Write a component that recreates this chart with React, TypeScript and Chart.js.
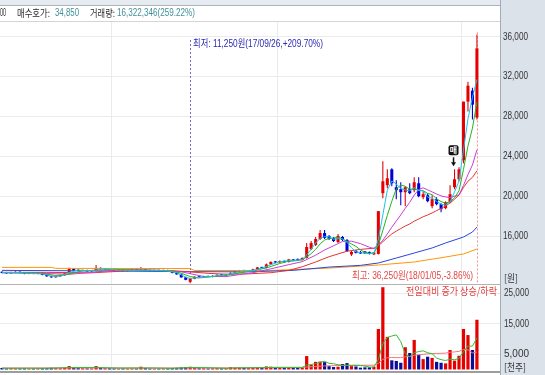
import React, { useEffect, useRef } from 'react';
import { Chart, registerables } from 'chart.js';

Chart.register(...registerables);

// ---------------- data ----------------
const opens = [
  12400, 12300, 12250, 12300, 12400, 12300, 12200, 12250, 12200, 12300,
  12100, 11950, 11850, 11950, 12050, 12250, 12700, 12550, 12500, 12550,
  12450, 12500, 12800, 12650, 12700, 12600, 12550, 12600, 12500, 12550,
  12600, 12550, 12650, 12550, 12500, 12550, 12500, 12550, 12450, 12300,
  12150, 11850, 11400, 11700, 11900, 11850, 11950, 11900, 12000, 12100,
  12050, 12150, 12300, 12400, 12550, 12450, 12500, 12650, 12850, 12800,
  13150, 13450, 13350, 13500, 13400, 13650, 13700, 13600, 13800, 14700,
  15100, 15700, 16300, 16000, 15800, 15400, 15900, 15600, 14150, 14500,
  14400, 14450, 14400, 14150, 14200, 20300, 21100, 22700, 20900, 20700,
  20400, 20700, 20600, 21300, 19900, 20100, 19000, 19700, 19200, 18800,
  19400, 20900, 21700, 23600, 29500, 30600, 27900,
];
const highs = [
  12450, 12400, 12400, 12450, 12450, 12350, 12300, 12300, 12350, 12350,
  12150, 12000, 12000, 12100, 12300, 12800, 12750, 12650, 12600, 12600,
  12550, 13100, 12850, 12750, 12750, 12650, 12650, 12650, 12600, 12650,
  12650, 12900, 12700, 12600, 12600, 12600, 12600, 12600, 12500, 12350,
  12200, 11900, 11800, 11950, 11950, 12000, 12000, 12050, 12150, 12150,
  12200, 12350, 12450, 12600, 12600, 12550, 12700, 12900, 12900, 13250,
  13450, 13500, 13550, 13550, 13700, 13700, 13750, 13850, 15300, 15500,
  15900, 16600, 16600, 16100, 15900, 16200, 16000, 15700, 14500, 14600,
  14500, 14500, 14450, 14400, 18500, 23500, 22700, 22800, 21600, 21400,
  21000, 21300, 21900, 21900, 20500, 20300, 20100, 19900, 19300, 19500,
  21100, 22700, 22900, 29500, 31500, 30900, 36250,
];
const lows = [
  12250, 12200, 12200, 12250, 12250, 12150, 12150, 12150, 12150, 12050,
  11900, 11800, 11800, 11900, 12000, 12200, 12500, 12450, 12450, 12400,
  12400, 12450, 12600, 12600, 12550, 12500, 12500, 12450, 12450, 12500,
  12500, 12500, 12500, 12450, 12450, 12450, 12450, 12400, 12250, 12100,
  11800, 11550, 11250, 11650, 11800, 11800, 11850, 11850, 11950, 12000,
  12000, 12100, 12250, 12350, 12400, 12400, 12450, 12600, 12750, 12750,
  13100, 13300, 13300, 13350, 13350, 13500, 13550, 13550, 13750, 14600,
  15000, 15600, 15700, 15600, 15400, 15300, 15500, 14400, 14000, 14250,
  14200, 14200, 14150, 14100, 14150, 19800, 20800, 21000, 19700, 19100,
  19000, 20200, 20400, 19900, 19700, 19400, 18800, 19100, 18400, 18700,
  19300, 20700, 21500, 23300, 28500, 27700, 27700,
];
const closes = [
  12300, 12250, 12350, 12400, 12300, 12200, 12250, 12200, 12300, 12100,
  11950, 11850, 11950, 12050, 12250, 12700, 12550, 12500, 12550, 12450,
  12500, 12800, 12650, 12700, 12600, 12550, 12600, 12500, 12550, 12600,
  12550, 12650, 12550, 12500, 12550, 12500, 12550, 12450, 12300, 12150,
  11850, 11600, 11750, 11900, 11850, 11950, 11900, 12000, 12100, 12050,
  12150, 12300, 12400, 12550, 12450, 12500, 12650, 12850, 12800, 13150,
  13400, 13350, 13500, 13400, 13650, 13550, 13600, 13800, 14900, 15300,
  15700, 16300, 15800, 15700, 15500, 16000, 15600, 14500, 14400, 14300,
  14250, 14250, 14200, 14350, 18500, 21500, 21800, 21300, 20600, 20400,
  20900, 20300, 21400, 20000, 20200, 19500, 19700, 19200, 18700, 19400,
  20200, 21700, 22700, 29500, 31100, 29200, 34850,
];
// volume in 천주 (thousand shares)
const volumes = [
  500, 400, 450, 400, 350, 400, 300, 350, 400, 450,
  500, 550, 450, 400, 600, 1100, 700, 450, 400, 350,
  350, 1100, 600, 400, 400, 350, 300, 350, 300, 350,
  300, 900, 450, 350, 300, 300, 350, 400, 500, 550,
  700, 800, 900, 600, 400, 400, 350, 400, 450, 400,
  450, 800, 600, 650, 500, 450, 600, 700, 550, 1000,
  900, 600, 650, 550, 800, 700, 600, 800, 4400, 1500,
  2500, 2600, 2400, 1100, 800, 900, 1800, 2100, 1100, 1000,
  600, 700, 700, 900, 13300, 27000, 10700, 3000, 2800, 2200,
  7300, 5400, 9700, 4800, 3400, 4200, 3800, 2500, 2200, 2000,
  6400, 2900, 4500, 13300, 11300, 6400, 16322,
];

// moving-average lines, read as [candle index, value]
const ma3Pts: [number, number][] = [
  [0, 12320], [3, 12330], [6, 12250], [9, 12200], [11, 11970], [13, 11950], [15, 12330], [17, 12580],
  [19, 12500], [21, 12580], [23, 12720], [26, 12580], [29, 12550], [32, 12580], [35, 12520], [37, 12500],
  [39, 12300], [40, 12100], [41, 11870], [42, 11730], [44, 11830], [47, 11950], [50, 12100], [53, 12420],
  [56, 12530], [58, 12770], [60, 13120], [62, 13420], [64, 13520], [66, 13600], [67, 13650], [68, 14100],
  [69, 14670], [70, 15300], [71, 15770], [72, 15930], [73, 15930], [74, 15670], [75, 15730], [76, 15700],
  [77, 15370], [78, 14830], [79, 14400], [80, 14320], [81, 14270], [82, 14230], [83, 14270], [84, 15680],
  [85, 18120], [86, 20600], [87, 21530], [88, 21230], [89, 20770], [90, 20630], [91, 20530], [92, 20870],
  [93, 20570], [94, 20530], [95, 19900], [96, 19800], [97, 19470], [98, 19200], [99, 19100], [100, 19430],
  [101, 20430], [102, 21530], [103, 24630], [104, 27770], [105, 29930], [106, 31720],
];
const ma5Pts: [number, number][] = [
  [0, 12330], [5, 12300], [8, 12260], [10, 12160], [12, 12030], [15, 12160], [18, 12510], [21, 12560],
  [25, 12660], [30, 12560], [35, 12550], [38, 12470], [40, 12260], [42, 11930], [44, 11790], [47, 11920],
  [50, 12040], [53, 12290], [56, 12510], [59, 12790], [62, 13240], [64, 13460], [65, 13490], [66, 13540],
  [67, 13600], [68, 13900], [69, 14230], [70, 14660], [71, 15200], [72, 15600], [73, 15760], [74, 15800],
  [75, 15860], [76, 15720], [77, 15460], [78, 15200], [79, 14960], [80, 14610], [81, 14340], [82, 14280],
  [83, 14270], [84, 15110], [85, 16560], [86, 18070], [87, 19490], [88, 20740], [89, 21120], [90, 21000],
  [91, 20700], [92, 20720], [93, 20600], [94, 20560], [95, 20280], [96, 20160], [97, 19720], [98, 19460],
  [99, 19300], [100, 19440], [101, 19840], [102, 20540], [103, 22700], [104, 25040], [105, 26840], [106, 29470],
];
const ma10Pts: [number, number][] = [
  [0, 12300], [5, 12280], [10, 12230], [15, 12160], [20, 12335], [25, 12585], [30, 12610], [35, 12555],
  [40, 12405], [42, 12220], [45, 11935], [50, 11925], [53, 12125], [56, 12315], [60, 12705], [64, 13125],
  [67, 13420], [70, 14075], [72, 14600], [74, 15015], [76, 15460], [78, 15480], [80, 15235], [82, 14870],
  [83, 14735], [84, 15035], [85, 15585], [86, 16205], [87, 16885], [88, 17505], [89, 18115], [90, 18780],
  [91, 19385], [92, 20105], [93, 20670], [94, 20840], [95, 20640], [96, 20430], [97, 20220], [98, 20030],
  [99, 19930], [100, 19860], [101, 20000], [102, 20130], [103, 21080], [104, 22170], [105, 23140], [106, 24655],
];
const ma20Pts: [number, number][] = [
  [0, 12350], [10, 12350], [20, 12300], [30, 12550], [38, 12520], [42, 12400], [46, 12250], [50, 12165],
  [55, 12200], [60, 12315], [64, 12550], [67, 12910], [70, 13390], [73, 13920], [77, 14475], [80, 14655],
  [83, 14780], [84, 15025], [85, 15423], [86, 15833], [87, 16208], [88, 16493], [89, 16748], [90, 17008],
  [91, 17208], [92, 17488], [93, 17703], [94, 17938], [95, 18113], [96, 18318], [97, 18553], [98, 18768],
  [99, 19023], [100, 19320], [101, 19693], [102, 20118], [103, 20875], [104, 21505], [105, 21890], [106, 22543],
];
const ma60Pts: [number, number][] = [
  [0, 12550], [20, 12500], [42, 12420], [55, 12400], [65, 12550], [73, 12880], [80, 13050], [84, 13290],
  [88, 13790], [92, 14290], [96, 14800], [99, 15300], [103, 15900], [105, 16400], [106, 16900],
];
const ma120Pts: [number, number][] = [
  [0, 12850], [11, 12850], [12, 12750], [42, 12730], [43, 12530], [60, 12540], [73, 12780], [84, 13090],
  [92, 13390], [99, 13890], [103, 14200], [106, 14690],
];
const volMa5Pts: [number, number][] = [
  [0, 420], [10, 400], [15, 610], [18, 650], [22, 600], [26, 450], [31, 480], [33, 500], [38, 380],
  [42, 640], [45, 620], [50, 400], [53, 540], [58, 600], [60, 700], [64, 720], [67, 700], [68, 1460],
  [69, 1600], [70, 1960], [71, 2360], [72, 2680], [73, 2020], [74, 1880], [75, 1560], [76, 1400],
  [77, 1340], [78, 1340], [79, 1380], [80, 1320], [81, 1100], [82, 820], [83, 780], [84, 3240],
  [85, 8520], [86, 10520], [87, 10980], [88, 11360], [89, 9140], [90, 5200], [91, 4140], [92, 5480],
  [93, 5880], [94, 6120], [95, 5500], [96, 5180], [97, 3740], [98, 3220], [99, 2940], [100, 3380],
  [101, 3200], [102, 3600], [103, 5820], [104, 7680], [105, 7680], [106, 10364],
];
const volMa20Pts: [number, number][] = [
  [0, 480], [20, 520], [40, 480], [50, 520], [60, 580], [67, 620], [68, 800], [72, 1172], [77, 1362],
  [80, 1375], [83, 1400], [84, 2025], [85, 3340], [86, 3845], [87, 3955], [88, 3875], [89, 3910],
  [90, 4150], [91, 4290], [92, 4655], [93, 4840], [94, 4970], [95, 5135], [96, 5235], [97, 5255],
  [98, 5310], [99, 5360], [100, 5650], [101, 5760], [102, 5950], [103, 6570], [104, 6470], [105, 5440],
  [106, 5720],
];

const priceTicks = [16000, 20000, 24000, 28000, 32000, 36000];
const volumeTicks = [5000, 15000, 25000];
const monthBreaks = [24.4, 61.4, 102.5];

const headerLabels = ['00', '매수호가:', '34,850', '거래량:', '16,322,346(259.22%)'];
const lowLabel = '최저: 11,250원(17/09/26,+209.70%)';
const highLabel = '최고: 36,250원(18/01/05,-3.86%)';
const legendLabel = '전일대비 증가 상승/하락';
const signalLabel = '매';
const priceUnit = '[원]';
const volumeUnit = '[천주]';
const LOW_INDEX = 42;
const HIGH_INDEX = 106;
const SIGNAL_INDEX = 101;

// ---------------- layout / style ----------------
const W = 545;
const X_MIN = -0.45;
const X_MAX = 111.15;
const PRICE_MIN = 11180;
const PRICE_MAX = 37500;
const PRICE_UNIT_AT = 11750;
const VOL_MIN = -500;
const VOL_MAX = 27400;
const VOL_UNIT_AT = 700;

const RED = '#e60000';
const BLUE = '#0000d8';
const VOL_BLUE = '#0c0c98';
const PANEL = '#dbe2ea';
const GRID = '#ebebeb';
const LFONT = '"Liberation Sans", "Noto Sans CJK KR", sans-serif';
const KFONT = '"Noto Sans CJK KR", "Liberation Sans", sans-serif';

const toXY = (pts: [number, number][]) => pts.map(([x, y]) => ({ x, y }));

function txt(ctx: any, s: string, x: number, y: number, color: string, font: string, align: any, maxW?: number) {
  ctx.font = font;
  ctx.fillStyle = color;
  ctx.textAlign = align;
  ctx.textBaseline = 'middle';
  if (maxW !== undefined) ctx.fillText(s, x, y, maxW);
  else ctx.fillText(s, x, y);
}

function vline(ctx: any, x: number, y1: number, y2: number, color: string, dash: number[] = []) {
  ctx.save();
  ctx.strokeStyle = color;
  ctx.lineWidth = 1;
  ctx.setLineDash(dash);
  ctx.beginPath();
  ctx.moveTo(x, y1);
  ctx.lineTo(x, y2);
  ctx.stroke();
  ctx.restore();
}

function drawPanelAndMonths(chart: any) {
  const { ctx, chartArea: a, height } = chart;
  ctx.save();
  ctx.fillStyle = PANEL;
  ctx.fillRect(a.right, 0, W - a.right, height);
  ctx.fillStyle = '#a3acb8';
  ctx.fillRect(a.right, 0, 1, height);
  const xs = chart.scales.x;
  monthBreaks.forEach((m) => {
    const x = Math.round(xs.getPixelForValue(m)) + 0.5;
    vline(ctx, x, a.top, a.bottom, GRID);
  });
  ctx.restore();
}

function lineDs(label: string, pts: [number, number][], color: string, yAxisID: string) {
  return {
    type: 'line',
    label,
    data: toXY(pts),
    borderColor: color,
    borderWidth: 1,
    pointRadius: 0,
    tension: 0,
    fill: false,
    yAxisID,
    order: 0,
  };
}

export default function App() {
  const priceRef = useRef<HTMLCanvasElement>(null);
  const volRef = useRef<HTMLCanvasElement>(null);

  useEffect(() => {
    const idx = closes.map((_, i) => i);
    const candleColors = idx.map((i) => (closes[i] >= opens[i] ? RED : BLUE));
    const volColors = idx.map((i) => (closes[i] >= opens[i] ? RED : VOL_BLUE));

    const xScale = {
      type: 'linear',
      min: X_MIN,
      max: X_MAX,
      display: false,
      offset: false,
      afterBuildTicks: (s: any) => {
        s.ticks = [{ value: 0 }];
      },
    };

    const pricePlugin = {
      id: 'priceDecor',
      beforeDraw(chart: any) {
        const { ctx, chartArea: a } = chart;
        drawPanelAndMonths(chart);
        ctx.save();
        ctx.fillStyle = '#e5ebf1';
        ctx.fillRect(0, 0, a.right, 5);
        ctx.fillStyle = '#aeb3b8';
        ctx.fillRect(0, 5, a.right, 1);
        ctx.fillStyle = '#d4d4d4';
        ctx.fillRect(0, 21, a.right, 1);
        ctx.restore();
      },
      beforeDatasetsDraw(chart: any) {
        const { ctx, chartArea: a } = chart;
        const xs = chart.scales.x;
        const ys = chart.scales.y;
        const xl = Math.round(xs.getPixelForValue(LOW_INDEX)) + 0.5;
        vline(ctx, xl, 40, ys.getPixelForValue(highs[LOW_INDEX]) - 2, '#6a6ad2', [2, 2]);
        const xh = Math.round(xs.getPixelForValue(HIGH_INDEX)) + 0.5;
        vline(ctx, xh, ys.getPixelForValue(highs[HIGH_INDEX]) - 2, a.bottom, '#f29090', [2, 2]);
      },
      afterDraw(chart: any) {
        const { ctx, chartArea: a } = chart;
        const xs = chart.scales.x;
        const ys = chart.scales.y;
        ctx.save();
        // header
        txt(ctx, headerLabels[0], 0, 13, '#2a2a2a', `10px ${LFONT}`, 'left', 6);
        txt(ctx, headerLabels[1], 17, 13, '#2a2a2a', `10px ${KFONT}`, 'left', 33);
        txt(ctx, headerLabels[2], 55, 13, '#41909b', `10px ${LFONT}`, 'left', 24);
        txt(ctx, headerLabels[3], 90, 13, '#2a2a2a', `10px ${KFONT}`, 'left', 25);
        txt(ctx, headerLabels[4], 117, 13, '#41909b', `10px ${LFONT}`, 'left', 78);
        // bottom border
        ctx.fillStyle = '#b2b2b2';
        ctx.fillRect(0, a.bottom, a.right, 1);
        // low / high labels
        const xl = Math.round(xs.getPixelForValue(LOW_INDEX));
        txt(ctx, lowLabel, xl + 3, a.top + 22, '#2a2ab4', `10px ${LFONT}`, 'left', 130);
        const xh = Math.round(xs.getPixelForValue(HIGH_INDEX));
        txt(ctx, highLabel, xh - 4, a.bottom - 8, '#e04848', `10px ${LFONT}`, 'right', 121);
        // buy signal
        const sx = xs.getPixelForValue(SIGNAL_INDEX) - 1;
        const tip = ys.getPixelForValue(highs[SIGNAL_INDEX]) - 3;
        ctx.fillStyle = '#111';
        ctx.strokeStyle = '#111';
        ctx.lineWidth = 1.5;
        ctx.beginPath();
        ctx.moveTo(sx, tip - 9);
        ctx.lineTo(sx, tip - 3);
        ctx.stroke();
        ctx.beginPath();
        ctx.moveTo(sx - 2.5, tip - 4);
        ctx.lineTo(sx + 2.5, tip - 4);
        ctx.lineTo(sx, tip);
        ctx.closePath();
        ctx.fill();
        ctx.beginPath();
        if (ctx.roundRect) ctx.roundRect(sx - 5, tip - 21, 10, 10, 2);
        else ctx.rect(sx - 5, tip - 21, 10, 10);
        ctx.fill();
        txt(ctx, signalLabel, sx, tip - 16, '#ffffff', `bold 8px ${KFONT}`, 'center');
        // axis labels
        ys.ticks.forEach((t: any) => {
          const y = ys.getPixelForValue(t.value);
          if (t.value === PRICE_UNIT_AT) txt(ctx, priceUnit, a.right + 4, y, '#333', `10px ${KFONT}`, 'left', 14);
          else txt(ctx, t.value.toLocaleString('en-US'), a.right + 3, y, '#333', `10px ${LFONT}`, 'left', 25);
        });
        ctx.restore();
      },
    };

    const volPlugin = {
      id: 'volDecor',
      beforeDraw(chart: any) {
        drawPanelAndMonths(chart);
      },
      afterDraw(chart: any) {
        const { ctx, chartArea: a } = chart;
        const ys = chart.scales.y;
        ctx.save();
        ctx.fillStyle = '#9d9d9d';
        ctx.fillRect(0, a.bottom, a.right, 2);
        txt(ctx, legendLabel, a.right - 3, a.top + 5, '#e03c3c', `10px ${KFONT}`, 'right', 91);
        ys.ticks.forEach((t: any) => {
          const y = ys.getPixelForValue(t.value);
          if (t.value === VOL_UNIT_AT) txt(ctx, volumeUnit, a.right + 4, y, '#333', `10px ${KFONT}`, 'left', 22);
          else txt(ctx, t.value.toLocaleString('en-US'), a.right + 4, y, '#333', `10px ${LFONT}`, 'left', 25);
        });
        ctx.restore();
      },
    };

    const priceChart = new Chart(priceRef.current as HTMLCanvasElement, {
      type: 'bar',
      data: {
        datasets: [
          lineDs('MA3', ma3Pts, '#19c3e6', 'y'),
          lineDs('MA5', ma5Pts, '#22b422', 'y'),
          lineDs('MA10', ma10Pts, '#c83cdc', 'y'),
          lineDs('MA20', ma20Pts, '#e63232', 'y'),
          lineDs('MA60', ma60Pts, '#2846dc', 'y'),
          lineDs('MA120', ma120Pts, '#ff9600', 'y'),
          {
            type: 'bar',
            label: 'body',
            data: idx.map((i) => ({ x: i, y: [opens[i], closes[i]] })),
            backgroundColor: candleColors,
            grouped: false,
            categoryPercentage: 1,
            barPercentage: 0.68,
            minBarLength: 1,
            order: 1,
          },
          {
            type: 'bar',
            label: 'wick',
            data: idx.map((i) => ({ x: i, y: [lows[i], highs[i]] })),
            backgroundColor: candleColors,
            grouped: false,
            categoryPercentage: 1,
            barPercentage: 0.24,
            order: 2,
          },
        ] as any,
      },
      options: {
        responsive: false,
        maintainAspectRatio: false,
        devicePixelRatio: 1,
        animation: false,
        events: [],
        layout: { padding: { top: 22, bottom: 1, left: 0, right: 0 } },
        plugins: { legend: { display: false }, tooltip: { enabled: false } },
        scales: {
          x: xScale,
          y: {
            type: 'linear',
            position: 'right',
            min: PRICE_MIN,
            max: PRICE_MAX,
            afterBuildTicks: (s: any) => {
              s.ticks = [PRICE_UNIT_AT, ...priceTicks].map((v) => ({ value: v }));
            },
            afterFit: (s: any) => {
              s.width = W - 500;
            },
            ticks: { display: false, autoSkip: false },
            grid: {
              drawTicks: false,
              color: (c: any) => (c.tick && c.tick.value === PRICE_UNIT_AT ? 'rgba(0,0,0,0)' : GRID),
            },
            border: { display: false },
          },
        } as any,
      },
      plugins: [pricePlugin],
    } as any);

    const volChart = new Chart(volRef.current as HTMLCanvasElement, {
      type: 'bar',
      data: {
        datasets: [
          lineDs('VMA5', volMa5Pts, '#33bb33', 'y'),
          lineDs('VMA20', volMa20Pts, '#f07878', 'y'),
          {
            type: 'bar',
            label: 'volume',
            data: idx.map((i) => ({ x: i, y: volumes[i] })),
            backgroundColor: volColors,
            grouped: false,
            categoryPercentage: 1,
            barPercentage: 0.72,
            minBarLength: 1,
            order: 1,
          },
        ] as any,
      },
      options: {
        responsive: false,
        maintainAspectRatio: false,
        devicePixelRatio: 1,
        animation: false,
        events: [],
        layout: { padding: { top: 1, bottom: 4, left: 0, right: 0 } },
        plugins: { legend: { display: false }, tooltip: { enabled: false } },
        scales: {
          x: xScale,
          y: {
            type: 'linear',
            position: 'right',
            min: VOL_MIN,
            max: VOL_MAX,
            afterBuildTicks: (s: any) => {
              s.ticks = [VOL_UNIT_AT, ...volumeTicks].map((v) => ({ value: v }));
            },
            afterFit: (s: any) => {
              s.width = W - 500;
            },
            ticks: { display: false, autoSkip: false },
            grid: {
              drawTicks: false,
              color: (c: any) => (c.tick && c.tick.value === VOL_UNIT_AT ? 'rgba(0,0,0,0)' : GRID),
            },
            border: { display: false },
          },
        } as any,
      },
      plugins: [volPlugin],
    } as any);

    return () => {
      priceChart.destroy();
      volChart.destroy();
    };
  }, []);

  return (
    <div style={{ position: 'fixed', left: 0, top: 0, width: 545, height: 375, background: '#ffffff', overflow: 'hidden' }}>
      <canvas ref={priceRef} width={545} height={285} style={{ position: 'absolute', left: 0, top: 0, width: 545, height: 285 }} />
      <canvas ref={volRef} width={545} height={90} style={{ position: 'absolute', left: 0, top: 285, width: 545, height: 90 }} />
    </div>
  );
}
